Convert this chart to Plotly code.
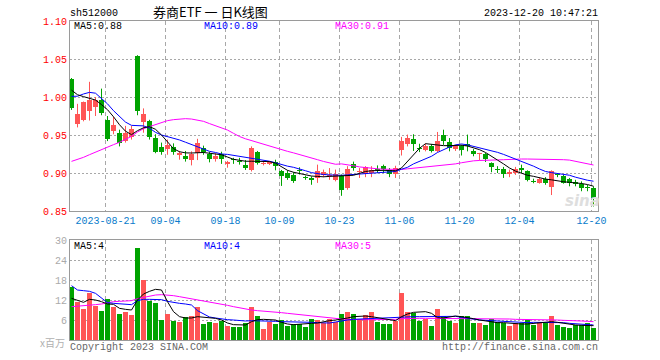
import plotly.graph_objects as go

# ---------------- data ----------------
dates = [
    "2023-08-11", "2023-08-14", "2023-08-15", "2023-08-16", "2023-08-17", "2023-08-18",
    "2023-08-21", "2023-08-22", "2023-08-23", "2023-08-24", "2023-08-25",
    "2023-08-28", "2023-08-29", "2023-08-30", "2023-08-31", "2023-09-01",
    "2023-09-04", "2023-09-05", "2023-09-06", "2023-09-07", "2023-09-08",
    "2023-09-11", "2023-09-12", "2023-09-13", "2023-09-14", "2023-09-15",
    "2023-09-18", "2023-09-19", "2023-09-20", "2023-09-21", "2023-09-22",
    "2023-09-25", "2023-09-26", "2023-09-27", "2023-09-28",
    "2023-10-09", "2023-10-10", "2023-10-11", "2023-10-12", "2023-10-13",
    "2023-10-16", "2023-10-17", "2023-10-18", "2023-10-19", "2023-10-20",
    "2023-10-23", "2023-10-24", "2023-10-25", "2023-10-26", "2023-10-27",
    "2023-10-30", "2023-10-31", "2023-11-01", "2023-11-02", "2023-11-03",
    "2023-11-06", "2023-11-07", "2023-11-08", "2023-11-09", "2023-11-10",
    "2023-11-13", "2023-11-14", "2023-11-15", "2023-11-16", "2023-11-17",
    "2023-11-20", "2023-11-21", "2023-11-22", "2023-11-23", "2023-11-24",
    "2023-11-27", "2023-11-28", "2023-11-29", "2023-11-30", "2023-12-01",
    "2023-12-04", "2023-12-05", "2023-12-06", "2023-12-07", "2023-12-08",
    "2023-12-11", "2023-12-12", "2023-12-13", "2023-12-14", "2023-12-15",
    "2023-12-18", "2023-12-19", "2023-12-20",
]

opens = [
    1.024, 0.965, 0.970, 0.982, 0.987, 0.996, 0.970, 0.955, 0.953, 0.942, 0.948,
    1.054, 0.967, 0.968, 0.946, 0.934, 0.932, 0.934, 0.9245, 0.923, 0.917,
    0.926, 0.933, 0.925, 0.919, 0.925, 0.912, 0.918, 0.916, 0.911, 0.904,
    0.928, 0.9125, 0.912, 0.9145, 0.902, 0.900, 0.898, 0.9045, 0.8945, 0.894,
    0.8935, 0.897, 0.8965, 0.891, 0.8955, 0.880, 0.912, 0.9015, 0.899, 0.900,
    0.905, 0.9095, 0.9045, 0.899, 0.930, 0.938, 0.945, 0.933, 0.930, 0.935,
    0.9285, 0.950, 0.941, 0.931, 0.936, 0.938, 0.9285, 0.925, 0.925, 0.913,
    0.9048, 0.9055, 0.8995, 0.900, 0.9065, 0.902, 0.8895, 0.8865, 0.8925, 0.882,
    0.898, 0.8965, 0.892, 0.8872, 0.886, 0.8808, 0.880,
]
highs = [
    1.025, 0.991, 0.994, 1.020, 1.000, 1.011, 0.975, 0.974, 0.957, 0.962, 0.962,
    1.055, 0.985, 0.970, 0.951, 0.940, 0.944, 0.939, 0.929, 0.929, 0.9285,
    0.945, 0.936, 0.928, 0.926, 0.928, 0.916, 0.920, 0.920, 0.917, 0.935,
    0.929, 0.916, 0.9155, 0.9175, 0.904, 0.9035, 0.901, 0.9075, 0.8965, 0.8955,
    0.911, 0.9045, 0.9065, 0.9045, 0.898, 0.909, 0.915, 0.9065, 0.909, 0.909,
    0.910, 0.911, 0.9065, 0.9095, 0.9475, 0.9505, 0.951, 0.9385, 0.9385, 0.938,
    0.954, 0.957, 0.946, 0.937, 0.937, 0.9505, 0.9315, 0.9265, 0.9265, 0.914,
    0.909, 0.908, 0.9045, 0.908, 0.911, 0.9035, 0.8925, 0.894, 0.8945, 0.9035,
    0.900, 0.898, 0.8935, 0.891, 0.889, 0.8845, 0.8825,
]
lows = [
    0.983, 0.960, 0.968, 0.969, 0.975, 0.976, 0.942, 0.951, 0.935, 0.940, 0.944,
    0.976, 0.953, 0.944, 0.926, 0.924, 0.924, 0.924, 0.9175, 0.915, 0.910,
    0.917, 0.924, 0.914, 0.915, 0.912, 0.907, 0.912, 0.911, 0.904, 0.902,
    0.911, 0.910, 0.9105, 0.9035, 0.883, 0.891, 0.887, 0.898, 0.891, 0.8845,
    0.887, 0.8945, 0.891, 0.889, 0.870, 0.878, 0.903, 0.8935, 0.8945, 0.8945,
    0.900, 0.900, 0.8945, 0.8935, 0.923, 0.935, 0.929, 0.9275, 0.9285, 0.927,
    0.9275, 0.937, 0.9285, 0.929, 0.923, 0.9285, 0.922, 0.9165, 0.9145, 0.901,
    0.900, 0.8935, 0.8945, 0.8975, 0.900, 0.889, 0.8865, 0.886, 0.8845, 0.871,
    0.8945, 0.886, 0.8825, 0.8825, 0.876, 0.876, 0.856,
]
closes = [
    0.986, 0.977, 0.993, 0.996, 0.996, 0.979, 0.945, 0.963, 0.939, 0.952, 0.958,
    0.982, 0.977, 0.947, 0.928, 0.928, 0.937, 0.928, 0.9255, 0.919, 0.925,
    0.939, 0.928, 0.918, 0.923, 0.918, 0.915, 0.917, 0.915, 0.907, 0.933,
    0.913, 0.9135, 0.914, 0.909, 0.8965, 0.894, 0.890, 0.902, 0.8935, 0.891,
    0.902, 0.901, 0.8975, 0.899, 0.877, 0.9055, 0.906, 0.9025, 0.908, 0.9045,
    0.904, 0.9055, 0.899, 0.9065, 0.9425, 0.946, 0.9385, 0.9325, 0.935, 0.9285,
    0.9415, 0.942, 0.933, 0.935, 0.9305, 0.935, 0.925, 0.9265, 0.919, 0.9075,
    0.904, 0.8985, 0.9005, 0.9055, 0.9045, 0.891, 0.8885, 0.8925, 0.887, 0.902,
    0.897, 0.8875, 0.887, 0.8865, 0.880, 0.880, 0.867,
]

ma5 = [
    1.009, 1.003, 1.0005, 0.998, 0.996, 0.990, 0.9833, 0.974, 0.9635, 0.955, 0.9505,
    0.9557, 0.9595, 0.961, 0.9575, 0.950, 0.9417, 0.932, 0.928, 0.9265, 0.9263,
    0.9265, 0.927, 0.926, 0.925, 0.924, 0.921, 0.918, 0.9167, 0.9155, 0.9155,
    0.9155, 0.9155, 0.915, 0.913, 0.908, 0.9035, 0.901, 0.899, 0.8978, 0.896,
    0.8955, 0.895, 0.8955, 0.896, 0.8965, 0.8968, 0.897, 0.8995, 0.902, 0.903,
    0.9035, 0.9035, 0.9032, 0.903, 0.9066, 0.9155, 0.9245, 0.9325, 0.9386, 0.9375,
    0.9362, 0.936, 0.936, 0.936, 0.9365, 0.9355, 0.9335, 0.9307, 0.927, 0.9225,
    0.917, 0.912, 0.9066, 0.9025, 0.8995, 0.897, 0.8956, 0.8935, 0.892, 0.891,
    0.8895, 0.8885, 0.8877, 0.8872, 0.8862, 0.8848, 0.8826,
]
ma10 = [
    1.0009, 1.001, 1.004, 1.0061, 1.005, 0.998, 0.991, 0.982, 0.974, 0.967, 0.9627,
    0.9625, 0.962, 0.959, 0.9535, 0.950, 0.948, 0.946, 0.9435, 0.9405, 0.9375,
    0.935, 0.932, 0.9285, 0.927, 0.925, 0.9245, 0.9232, 0.922, 0.9205, 0.9195,
    0.9185, 0.917, 0.9155, 0.9135, 0.911, 0.909, 0.9075, 0.9057, 0.903, 0.9005,
    0.899, 0.898, 0.8975, 0.897, 0.897, 0.8975, 0.898, 0.899, 0.8995, 0.900,
    0.9005, 0.901, 0.9015, 0.902, 0.905, 0.9075, 0.912, 0.9154, 0.919, 0.922,
    0.927, 0.931, 0.9342, 0.937, 0.9382, 0.937, 0.935, 0.9335, 0.932, 0.9295,
    0.9272, 0.9245, 0.9215, 0.919, 0.9155, 0.9125, 0.909, 0.9053, 0.902, 0.9005,
    0.8995, 0.8985, 0.897, 0.8945, 0.892, 0.8905, 0.8892,
]
ma30 = [
    0.9153, 0.9175, 0.9206, 0.9241, 0.9276, 0.9311, 0.9346, 0.9373, 0.9404, 0.9439, 0.9482,
    0.954, 0.9583, 0.961, 0.9636, 0.9662, 0.9689, 0.9702, 0.971, 0.9715, 0.971,
    0.9697, 0.968, 0.965, 0.962, 0.9597, 0.9565, 0.9522, 0.948, 0.945, 0.9425,
    0.940, 0.938, 0.936, 0.9335, 0.931, 0.9285, 0.9265, 0.9245, 0.9225, 0.920,
    0.9175, 0.9152, 0.913, 0.9115, 0.912, 0.911, 0.9095, 0.908, 0.907, 0.906,
    0.9055, 0.905, 0.9047, 0.9045, 0.9047, 0.9055, 0.9062, 0.907, 0.9078, 0.9085,
    0.909, 0.9098, 0.911, 0.912, 0.9135, 0.915, 0.916, 0.9165, 0.917, 0.917,
    0.9172, 0.9175, 0.918, 0.9184, 0.9184, 0.9184, 0.9184, 0.9184, 0.9184, 0.918,
    0.9178, 0.9175, 0.917, 0.9155, 0.9135, 0.912, 0.9105,
]

# volume, in millions
volumes = [
    16.0, 11.5, 9.3, 14.2, 10.2, 8.7, 12.3, 9.9, 7.8, 8.5, 7.5,
    27.7, 18.0, 11.8, 11.2, 6.0, 7.8, 5.8, 5.5, 6.8, 7.3,
    10.0, 4.8, 5.5, 5.2, 5.8, 4.2, 4.0, 4.0, 5.0, 10.0,
    7.3, 3.3, 5.3, 4.8, 6.0, 4.3, 4.8, 4.7, 4.0, 6.3,
    6.0, 5.0, 6.3, 5.3, 7.8, 8.4, 7.7, 6.2, 7.5, 8.4,
    5.4, 4.8, 4.8, 5.8, 14.2, 8.4, 8.0, 5.8, 6.2, 4.2,
    9.3, 7.2, 5.8, 5.1, 7.2, 7.2, 5.1, 5.1, 4.5, 6.2,
    5.4, 5.2, 4.2, 5.2, 5.2, 6.0, 4.5, 5.4, 5.0, 7.2,
    4.5, 3.9, 3.6, 4.5, 4.5, 5.0, 3.6,
]
vol_ma5 = [
    12.5, 12.0, 11.3, 12.2, 12.0, 11.5, 10.8, 10.7, 9.5, 9.2, 9.0,
    12.0, 13.8, 14.6, 15.2, 15.0, 11.5, 8.5, 7.0, 6.6, 6.6,
    7.0, 6.8, 6.6, 6.5, 6.0, 5.1, 4.6, 4.5, 4.5, 5.5,
    6.1, 6.2, 6.0, 6.0, 5.3, 4.8, 4.6, 4.8, 4.8, 5.0,
    5.1, 5.5, 5.8, 6.0, 6.2, 6.6, 7.0, 7.2, 7.2, 7.0,
    6.7, 6.3, 6.0, 5.8, 7.0, 7.8, 8.3, 8.5, 8.5, 8.0,
    6.7, 6.6, 7.0, 7.2, 7.0, 6.8, 6.4, 6.0, 5.7, 5.4,
    5.2, 5.2, 5.0, 4.9, 4.8, 4.8, 5.0, 5.2, 5.3, 5.5,
    5.3, 5.0, 4.7, 4.5, 4.4, 4.4, 4.3,
]
vol_ma10 = [
    16.3, 15.0, 14.8, 14.6, 14.0, 12.5, 11.2, 11.0, 10.8, 10.6, 10.6,
    11.8, 12.2, 12.2, 12.2, 12.1, 11.6, 11.2, 11.0, 10.8, 10.5,
    8.8, 7.8, 6.9, 6.6, 6.3, 6.1, 6.0, 5.8, 5.7, 5.8,
    5.8, 5.7, 5.7, 5.6, 5.5, 5.5, 5.4, 5.4, 5.3, 5.3,
    5.2, 5.2, 5.1, 5.4, 5.8, 6.0, 6.2, 6.3, 6.4, 6.5,
    6.6, 6.6, 6.7, 6.8, 7.0, 7.0, 7.0, 7.0, 7.0, 7.0,
    7.1, 7.2, 7.2, 7.1, 6.8, 6.5, 6.1, 6.0, 5.9, 5.8,
    5.7, 5.6, 5.4, 5.2, 5.2, 5.2, 5.3, 5.3, 5.4, 5.4,
    5.3, 5.2, 5.0, 4.9, 4.8, 4.7, 4.5,
]
vol_ma30 = [
    10.0, 10.1, 10.3, 10.5, 10.6, 10.8, 11.2, 11.5, 11.6, 11.7, 11.8,
    12.4, 12.8, 13.3, 13.5, 13.6, 13.5, 13.3, 13.0, 12.7, 12.4,
    12.0, 11.7, 11.3, 11.0, 10.8, 10.4, 10.0, 9.6, 9.3, 9.0,
    8.8, 8.7, 8.6, 8.4, 8.2, 8.0, 7.8, 7.6, 7.4, 7.1,
    6.9, 6.8, 6.6, 6.4, 6.3, 6.2, 6.1, 6.1, 6.1, 6.1,
    6.1, 6.1, 6.1, 6.2, 6.4, 6.5, 6.5, 6.5, 6.5, 6.5,
    6.5, 6.4, 6.3, 6.3, 6.4, 6.4, 6.4, 6.3, 6.3, 6.3,
    6.3, 6.3, 6.3, 6.2, 6.2, 6.2, 6.1, 6.1, 6.0, 6.0,
    6.0, 5.9, 5.9, 5.8, 5.7, 5.6, 5.5,
]

tick_dates = ["2023-08-21", "2023-09-04", "2023-09-18", "2023-10-09", "2023-10-23",
              "2023-11-06", "2023-11-20", "2023-12-04", "2023-12-20"]
tick_labels = ["2023-08-21", "09-04", "09-18", "10-09", "10-23",
               "11-06", "11-20", "12-04", "12-20"]
price_ticks = [0.85, 0.90, 0.95, 1.00, 1.05, 1.10]
volume_ticks = [6, 12, 18, 24, 30]

symbol = "sh512000"
title_text = "券商ETF 一 日K线图"
timestamp = "2023-12-20 10:47:21"

# ---------------- styling ----------------
UP = "#ff5555"
DOWN = "#00a300"
GRID = "#a8a8a8"
BORDER = "#9a9a9a"
MONO = "Liberation Mono, DejaVu Sans Mono, monospace"
CJK = "Noto Sans CJK SC, Liberation Mono, sans-serif"

W, H = 660, 360
L, R = 70, 598          # plot left/right in px
TOP, BOT = 21, 340      # plot top / bottom in px
MAIN_BOTTOM = 211
VOL_TOP = 240

n = len(dates)
xs = list(range(n))
is_up = [c >= o for o, c in zip(opens, closes)]
min_body = 0.0014

fig = go.Figure()

# wicks
for flag, col in ((True, UP), (False, DOWN)):
    wx, wy = [], []
    for i in xs:
        if is_up[i] == flag:
            wx += [i, i, None]
            wy += [lows[i], highs[i], None]
    fig.add_trace(go.Scatter(x=wx, y=wy, mode="lines", line=dict(color=col, width=1),
                             hoverinfo="skip", xaxis="x", yaxis="y"))

# bodies
for flag, col in ((True, UP), (False, DOWN)):
    bx, by, bb = [], [], []
    for i in xs:
        if is_up[i] == flag:
            lo = min(opens[i], closes[i])
            hgt = abs(closes[i] - opens[i])
            if hgt < min_body:
                lo = (opens[i] + closes[i]) / 2 - min_body / 2
                hgt = min_body
            bx.append(i)
            by.append(hgt)
            bb.append(lo)
    fig.add_trace(go.Bar(x=bx, y=by, base=bb, width=0.82, marker=dict(color=col, line=dict(width=0)),
                         xaxis="x", yaxis="y"))

# price moving averages
for arr, col in ((ma30, "#ff00ff"), (ma10, "#0000ff"), (ma5, "#000000")):
    fig.add_trace(go.Scatter(x=xs, y=arr, mode="lines", line=dict(color=col, width=1),
                             xaxis="x", yaxis="y"))

# volume
fig.add_trace(go.Bar(x=xs, y=volumes, width=0.86,
                     marker=dict(color=[UP if u else DOWN for u in is_up], line=dict(width=0)),
                     xaxis="x2", yaxis="y2"))
for arr, col in ((vol_ma30, "#ff00ff"), (vol_ma10, "#0000ff"), (vol_ma5, "#000000")):
    fig.add_trace(go.Scatter(x=xs, y=arr, mode="lines", line=dict(color=col, width=1),
                             xaxis="x2", yaxis="y2"))

tickvals = [dates.index(d) - 1 / 3 for d in tick_dates]
xrange = [-0.25, n - 0.25]

main_dom = [(BOT - MAIN_BOTTOM) / (BOT - TOP), 1]
vol_dom = [0, (BOT - VOL_TOP) / (BOT - TOP)]

common_x = dict(range=xrange, tickvals=tickvals, showgrid=True, gridcolor=GRID,
                griddash="4px,3px", gridwidth=1, zeroline=False, showline=True,
                linecolor=BORDER, linewidth=1, mirror=True, ticks="", fixedrange=True)

fig.update_layout(
    width=W, height=H,
    margin=dict(l=L, r=W - R, t=TOP, b=H - BOT, pad=0),
    paper_bgcolor="white", plot_bgcolor="white",
    showlegend=False, bargap=0, hovermode=False,
    xaxis=dict(**common_x, ticktext=tick_labels, showticklabels=True,
               tickfont=dict(family=MONO, size=10, color="#0a7ccc"),
               anchor="y", domain=[0, 1]),
    yaxis=dict(domain=main_dom, range=[price_ticks[0], price_ticks[-1]], tickvals=price_ticks,
               ticktext=[f"{v:.2f}" for v in price_ticks],
               tickfont=dict(family=MONO, size=10, color="#ff0000"),
               showgrid=True, gridcolor=GRID, griddash="2px,2px", zeroline=False,
               showline=True, linecolor=BORDER, linewidth=1, mirror=True, ticks="",
               anchor="x", fixedrange=True),
    xaxis2=dict(**common_x, ticktext=[""] * len(tickvals), showticklabels=False,
                anchor="y2", matches="x", domain=[0, 1]),
    yaxis2=dict(domain=vol_dom, range=[0, volume_ticks[-1]], tickvals=volume_ticks,
                ticktext=[str(v) for v in volume_ticks],
                tickfont=dict(family=MONO, size=10, color="#aaaaaa"),
                showgrid=True, gridcolor=GRID, griddash="2px,2px", zeroline=False,
                showline=True, linecolor=BORDER, linewidth=1, mirror=True, ticks="",
                anchor="x2", fixedrange=True),
)


def px_x(p):
    return (p - L) / (R - L)


def px_y(p):
    return (BOT - p) / (BOT - TOP)


def note(text, x, y, color="#000000", xanchor="left", size=10, family=MONO):
    fig.add_annotation(text=text, x=px_x(x), y=px_y(y), xref="paper", yref="paper",
                       xanchor=xanchor, yanchor="middle", showarrow=False, borderpad=0,
                       font=dict(family=family, size=size, color=color))


note(symbol, 69, 13)
note(title_text, 210, 11.5, xanchor="center", size=13, family=CJK)
note(timestamp, 599, 13, xanchor="right")

note(f"MA5:{ma5[-1]:.2f}", 73, 26.5)
note(f"MA10:{ma10[-1]:.2f}", 203, 26.5, color="#0000ff")
note(f"MA30:{ma30[-1]:.2f}", 334, 26.5, color="#ff00ff")

note(f"MA5:{int(vol_ma5[-1])}", 73, 246)
note(f"MA10:{int(vol_ma10[-1])}", 203, 246, color="#0000ff")
note(f"MA30:{int(vol_ma30[-1])}", 334, 246, color="#ff00ff")

note("x百万", 66, 342, color="#b0b0b0", xanchor="right", family=CJK)
note("Copyright 2023 SINA.COM", 69, 347, color="#666666")
note("http://finance.sina.com.cn", 599, 347, color="#666666", xanchor="right")

fig.add_annotation(text="<b><i>sina</i></b>", x=px_x(582), y=px_y(201), xref="paper", yref="paper",
                   xanchor="center", yanchor="middle", showarrow=False,
                   font=dict(family="DejaVu Sans", size=15, color="#dedede"))

# the page's default 8px body margin would push the 660x360 figure out of the window
fig.write_html("out.html", config={"displayModeBar": False, "staticPlot": True},
               post_script="document.body.style.margin='0';")
